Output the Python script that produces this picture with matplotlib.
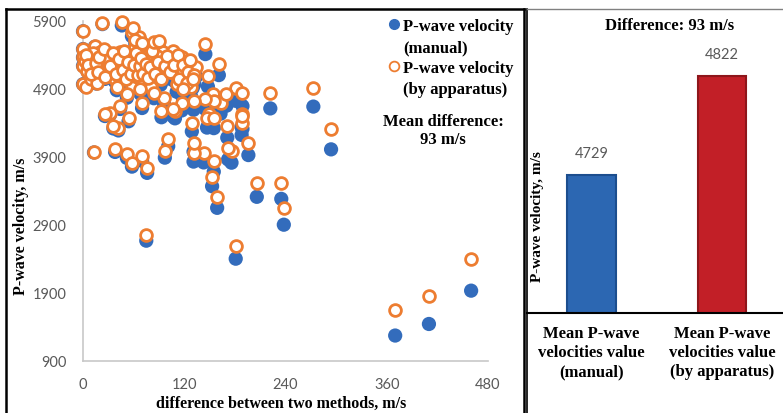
import matplotlib
matplotlib.use("Agg")
import matplotlib.pyplot as plt
from matplotlib.lines import Line2D
import matplotlib.transforms as mtransforms

# ---------------- data ----------------
diff = [0, 0, 0, 0, 3, 14, 20, 24, 28, 22, 36, 38, 40, 48, 54, 58, 60, 62, 64, 68,
        72, 76, 80, 83, 87, 91, 95, 99, 105, 109, 115, 121, 111, 81, 68, 52, 8, 5, 10, 16,
        28, 44, 34, 46, 68, 72, 58, 50, 56, 66, 74, 78, 86, 62, 70, 88, 94, 102, 118, 12,
        2, 30, 42, 107, 117, 125, 134, 121, 128, 154, 163, 109, 149, 188,
        4, 6, 9, 15, 18, 19, 25, 26, 32, 35, 39, 43, 47, 49, 51, 53, 57, 61, 63, 65,
        67, 69, 71, 73, 75, 77, 79, 82, 85, 89, 92, 97, 100, 103, 108, 112, 114, 119, 124, 127,
        132, 84, 66, 62, 70,
        0, 23, 46, 59, 90, 145, 161, 148, 181, 189, 170, 155, 145, 131, 123, 130, 118, 96,
        117, 107, 93, 84, 70, 44, 54, 42, 36, 32, 26, 13, 38, 52, 58, 76, 70, 97, 101, 155,
        143, 131, 131, 129, 147, 155, 171, 188, 189, 176, 172, 196, 222, 273, 294, 153, 159,
        206, 235, 238, 181, 75, 370, 410, 460]

manual = [5483, 5360, 5236, 4966, 4929, 5517, 5414, 5286, 5160, 5092, 5250, 5002, 4878,
          5188, 5011, 4883, 5300, 5446, 5124, 4972, 5214, 5333, 5083, 5252, 4953, 5170,
          5339, 5089, 5255, 5005, 5195, 5115, 4855, 4837, 4825, 4767, 5327, 5158, 5030,
          4975, 5406, 5390, 5129, 5043, 5537, 5411, 5671, 5320, 5150, 5280, 5110, 5230,
          5140, 5020, 5360, 5300, 5020, 5180, 5030, 5420, 5300, 5320, 5120, 5350, 5243,
          5185, 5079, 4869, 4790, 4665, 4533, 4464, 4375, 4336,
          5396, 5244, 5111, 5265, 5132, 5341, 5455, 5044, 5208, 5395, 5081, 5297, 5133,
          5411, 4989, 5247, 5063, 5189, 5357, 5035, 5173, 5281, 5049, 5467, 5195, 4983,
          5141, 5378, 5035, 5211, 4958, 5143, 5280, 5047, 5142, 5288, 4936, 5131, 5026,
          5193, 4968, 5500, 5600, 5560, 5500,
          5745, 5850, 5830, 5741, 5508, 5409, 5100, 4932, 4722, 4645, 4650, 4565, 4600,
          4590, 4867, 4910, 4775, 4674, 4580, 4490, 4480, 4760, 4616, 4602, 4421, 4286,
          4315, 4517, 4498, 3962, 3970, 3882, 3754, 3662, 3839, 3886, 4054, 3680, 3816,
          3828, 3975, 4272, 4328, 4320, 4180, 4220, 4310, 3812, 3860, 3924, 4610, 4637,
          4008, 3466, 3148, 3310, 3280, 2900, 2400, 2665, 1270, 1440, 1930]

apparatus = [5483, 5360, 5236, 4966, 4932, 5531, 5434, 5310, 5188, 5114, 5286, 5040, 4918,
             5236, 5065, 4941, 5360, 5508, 5188, 5040, 5286, 5409, 5163, 5335, 5040, 5261,
             5434, 5188, 5360, 5114, 5310, 5236, 4966, 4918, 4893, 4819, 5335, 5163, 5040,
             4991, 5434, 5434, 5163, 5089, 5605, 5483, 5729, 5370, 5206, 5346, 5184, 5308,
             5226, 5082, 5430, 5388, 5114, 5282, 5148, 5432, 5302, 5350, 5162, 5458, 5360,
             5310, 5213, 4990, 4918, 4819, 4696, 4573, 4524, 4524,
             5400, 5250, 5120, 5280, 5150, 5360, 5480, 5070, 5240, 5430, 5120, 5340, 5180,
             5460, 5040, 5300, 5120, 5250, 5420, 5100, 5240, 5350, 5120, 5540, 5270, 5060,
             5220, 5460, 5120, 5300, 5050, 5240, 5380, 5150, 5250, 5400, 5050, 5250, 5150,
             5320, 5100, 5584, 5666, 5622, 5570,
             5745, 5873, 5876, 5800, 5605, 5556, 5261, 5080, 4903, 4834, 4819, 4720, 4745,
             4720, 4990, 5040, 4893, 4770, 4696, 4598, 4573, 4844, 4686, 4646, 4475, 4328,
             4351, 4549, 4524, 3975, 4008, 3934, 3812, 3738, 3909, 3983, 4155, 3835, 3959,
             3959, 4106, 4401, 4475, 4475, 4351, 4400, 4499, 3990, 4030, 4106, 4830, 4903,
             4303, 3600, 3310, 3517, 3517, 3148, 2582, 2755, 1640, 1850, 2390]

x_ticks = [0, 120, 240, 360, 480]
y_ticks = [900, 1900, 2900, 3900, 4900, 5900]

bar_categories = ["Mean P-wave\nvelocities value\n(manual)",
                  "Mean P-wave\nvelocities value\n(by apparatus)"]
bar_values = [4729, 4822]
bar_title = "Difference: 93 m/s"
mean_note = "Mean difference:\n93 m/s"

# ---------------- style ----------------
W, H = 783, 414
BLUE = "#336CBC"
ORANGE = "#ED7D31"
GREY = "#595959"
SERIF = "Liberation Serif"
TICKFONT = "Lato"

fig = plt.figure(figsize=(W / 100, H / 100), dpi=100)
fig.patch.set_facecolor("white")

# ---------------- left scatter panel ----------------
ax1 = fig.add_axes([83 / W, (H - 361.7) / H, (488 - 83) / W, (361.7 - 21.7) / H])
ax1.scatter(diff, manual, s=105, c=BLUE, edgecolors="none", zorder=3, clip_on=False)
ax1.scatter(diff, apparatus, s=72, facecolors="white", edgecolors=ORANGE,
            linewidths=2.0, zorder=4, clip_on=False)
ax1.set_xlim(0, 480)
ax1.set_ylim(900, 5900)
ax1.set_xticks(x_ticks)
ax1.set_yticks(y_ticks)
ax1.tick_params(length=0, labelcolor=GREY, labelsize=10.5, pad=12)
for lab in ax1.get_xticklabels() + ax1.get_yticklabels():
    lab.set_fontfamily(TICKFONT)
for s in ["top", "right"]:
    ax1.spines[s].set_visible(False)
for s in ["left", "bottom"]:
    ax1.spines[s].set_color("#C8C8C8")
    ax1.spines[s].set_linewidth(1.2)

ax1.set_xlabel("difference between two methods, m/s", fontfamily=SERIF,
               fontweight="bold", fontsize=11.5)
ax1.xaxis.set_label_coords((281 - 83) / 405, (361.7 - 404) / 340)
ax1.xaxis.label.set_verticalalignment("center")
ax1.set_ylabel("P-wave velocity, m/s", fontfamily=SERIF, fontweight="bold", fontsize=11.5)
ax1.yaxis.set_label_coords((21 - 83) / 405, (361.7 - 226) / 340)
ax1.yaxis.label.set_verticalalignment("center")

handles = [Line2D([], [], ls="none", marker="o", color=BLUE, markersize=7),
           Line2D([], [], ls="none"),
           Line2D([], [], ls="none", marker="o", mfc="white", mec=ORANGE, mew=1.3, markersize=7),
           Line2D([], [], ls="none")]
labels = ["P-wave velocity", "(manual)", "P-wave velocity", "(by apparatus)"]
leg = ax1.legend(handles, labels, loc="upper left",
                 bbox_to_anchor=(389 / W, 1 - 19 / H), bbox_transform=fig.transFigure,
                 frameon=False, borderpad=0, borderaxespad=0, handlelength=0.6,
                 handletextpad=0.25, labelspacing=0.3,
                 prop={"family": SERIF, "weight": "bold", "size": 12})

fig.text(443 / W, 1 - 131 / H, mean_note, ha="center", va="center",
         fontfamily=SERIF, fontweight="bold", fontsize=12, linespacing=1.15)

# ---------------- right bar panel ----------------
ax2 = fig.add_axes([525 / W, (H - 314) / H, (783 - 525) / W, (314 - 10) / H])
xpos = list(range(len(bar_values)))
bars = ax2.bar(xpos, bar_values, width=0.371, color=["#2C67B2", "#C21F27"],
               edgecolor=["#1C4E8E", "#8E161B"], linewidth=1.5, zorder=2)
ax2.set_xlim(-0.511, 1.466)
ax2.set_ylim(4599.4, 4884.9)
ax2.bar_label(bars, labels=[str(v) for v in bar_values], padding=11,
              color=GREY, fontsize=10.5, fontfamily=TICKFONT)
ax2.set_xticks([])
ax2.set_yticks([])
for s in ax2.spines.values():
    s.set_visible(False)

ax2.text((670 - 525) / 258, (314 - 26) / 304, bar_title, transform=ax2.transAxes,
         ha="center", va="center", fontfamily=SERIF, fontweight="bold", fontsize=12)
ax2.text((538 - 525) / 258, (314 - 217) / 304, "P-wave velocity, m/s", transform=ax2.transAxes,
         rotation=90, ha="center", va="center", fontfamily=SERIF, fontweight="bold",
         fontsize=11)
trans = mtransforms.blended_transform_factory(ax2.transData, ax2.transAxes)
for xp, cat in zip(xpos, bar_categories):
    ax2.text(xp, (314 - 326) / 304, cat, transform=trans, ha="center", va="top",
             fontfamily=SERIF, fontweight="bold", fontsize=12, linespacing=1.25)

# ---------------- frame lines ----------------
def fline(x0, y0, x1, y1, **kw):
    fig.add_artist(Line2D([x0 / W, x1 / W], [1 - y0 / H, 1 - y1 / H],
                          transform=fig.transFigure, **kw))

fline(6, 10, 524, 10, color="black", lw=1.8)
fline(6, 10, 6, 414, color="black", lw=1.8)
fline(524, 10, 524, 414, color="black", lw=1.8)
fline(527, 10, 527, 414, color="black", lw=1.2)
fline(527, 10, 783, 10, color="#808080", lw=1.0)
fline(527, 314, 783, 314, color="black", lw=1.5)

fig.savefig("out.png", dpi=100, facecolor="white")
